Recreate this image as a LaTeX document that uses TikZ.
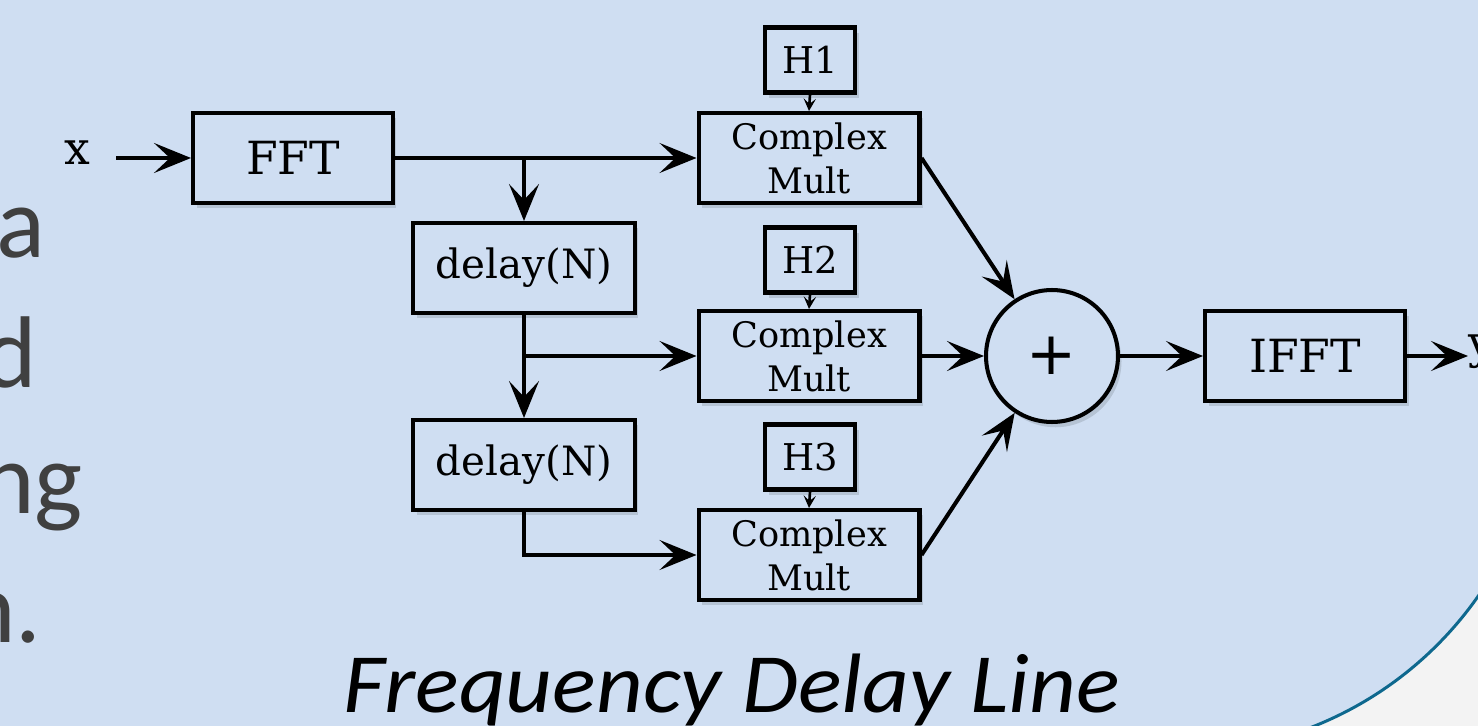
\documentclass[tikz,border=0pt]{standalone}
\usepackage{fontspec}
\setmainfont{Carlito}
\newfontfamily\diag{DejaVu Serif}
\newfontfamily\plusfont{DejaVu Sans}
\usetikzlibrary{arrows.meta,shadows}
\definecolor{bg}{RGB}{207,222,242}
\definecolor{cornergray}{RGB}{243,243,243}
\definecolor{curveteal}{RGB}{14,104,142}
\definecolor{slidetext}{RGB}{64,64,64}
\begin{document}
\begin{tikzpicture}[x=0.02cm,y=-0.02cm,
  softshadow/.style={drop shadow={shadow xshift=2pt, shadow yshift=-3pt, opacity=0.12, fill=black}},
  blk/.style={draw, fill=bg, softshadow, line width=2.3pt, inner sep=0pt, align=center},
  mainbox/.style={blk, minimum width=4cm, minimum height=1.8cm, font=\diag\fontsize{26}{30}\selectfont},
  delaybox/.style={blk, minimum width=4.44cm, minimum height=1.8cm, font=\diag\fontsize{23}{28}\selectfont},
  cmbox/.style={blk, minimum width=4.42cm, minimum height=1.8cm, font=\diag\fontsize{20}{25}\selectfont},
  hbox/.style={blk, minimum width=1.8cm, minimum height=1.3cm, font=\diag\fontsize{21}{25}\selectfont},
  sumnode/.style={draw, fill=bg, softshadow, circle, line width=2.3pt, minimum size=2.64cm, inner sep=0pt, font=\plusfont\fontsize{34}{38}\selectfont},
  iolabel/.style={inner sep=0pt, font=\diag\fontsize{26}{30}\selectfont},
  arr/.style={line width=2.3pt, -{Stealth[length=21pt,width=17pt,inset=9pt]}},
  sarr/.style={line width=1.5pt, -{Stealth[length=7pt,width=7pt,inset=3pt]}},
  slidefont/.style={text=slidetext, inner sep=0pt, font=\fontsize{58}{70}\selectfont},
]
\useasboundingbox (0,0) rectangle (1478,726);
\fill[bg] (0,0) rectangle (1478,726);
\clip (0,0) rectangle (1478,726);
% page corner
\begin{scope}
  \clip (1100,480) rectangle (1478,726);
  \fill[cornergray] (1100,480) rectangle (1478,726);
  \fill[bg] (1179,387) circle[radius=365];
  \draw[curveteal, line width=1.7pt] (1179,387) circle[radius=365];
\end{scope}

% clipped slide text on the left
\node[slidefont, anchor=base east] (la) at (46,258) {a};
\node[slidefont, anchor=base east] (ld) at (37,387) {d};
\node[slidefont, anchor=base east] (lng) at (83,513) {ng};
\node[slidefont, anchor=base east] (ln) at (42,642) {n.};

% caption
\node[text=black, inner sep=0pt, anchor=base, font=\itshape\fontsize{48}{56}\selectfont] (cap) at (732,712) {\scalebox{1.08}[1]{Frequency Delay Line}};

% blocks
\node[iolabel] (x) at (77,153) {x};
\node[mainbox] (fft) at (293,158) {FFT};
\node[delaybox] (d1) at (524,268) {delay(N)};
\node[delaybox] (d2) at (524,465) {delay(N)};
\node[cmbox] (cm1) at (809,158) {Complex\\Mult};
\node[cmbox] (cm2) at (809,356) {Complex\\Mult};
\node[cmbox] (cm3) at (809,555) {Complex\\Mult};
\node[hbox] (h1) at (810,60) {H1};
\node[hbox] (h2) at (810,260) {H2};
\node[hbox] (h3) at (810,457) {H3};
\node[sumnode] (plus) at (1052,356) {+};
\node[mainbox] (ifft) at (1305,356) {IFFT};
\node[iolabel, anchor=west] (y) at (1468,352) {y};

% connectors
\draw[arr] ([xshift=-1.5cm]fft.west) -- (fft.west);
\draw[arr] (fft.east) -- (cm1.west);
\draw[arr] (d1.north |- fft.east) -- (d1.north);
\draw[arr] (d1.south) -- (d2.north);
\draw[arr] (d1.south |- cm2.west) -- (cm2.west);
\draw[arr] (d2.south) |- (cm3.west);
\draw[sarr] (h1.south) -- (cm1.north);
\draw[sarr] (h2.south) -- (cm2.north);
\draw[sarr] (h3.south) -- (cm3.north);
\draw[arr] (cm1.east) -- (plus);
\draw[arr] (cm2.east) -- (plus.west);
\draw[arr] (cm3.east) -- (plus);
\draw[arr] (plus.east) -- (ifft.west);
\draw[arr] (ifft.east) -- (ifft.east -| y.west);
\end{tikzpicture}
\end{document}
